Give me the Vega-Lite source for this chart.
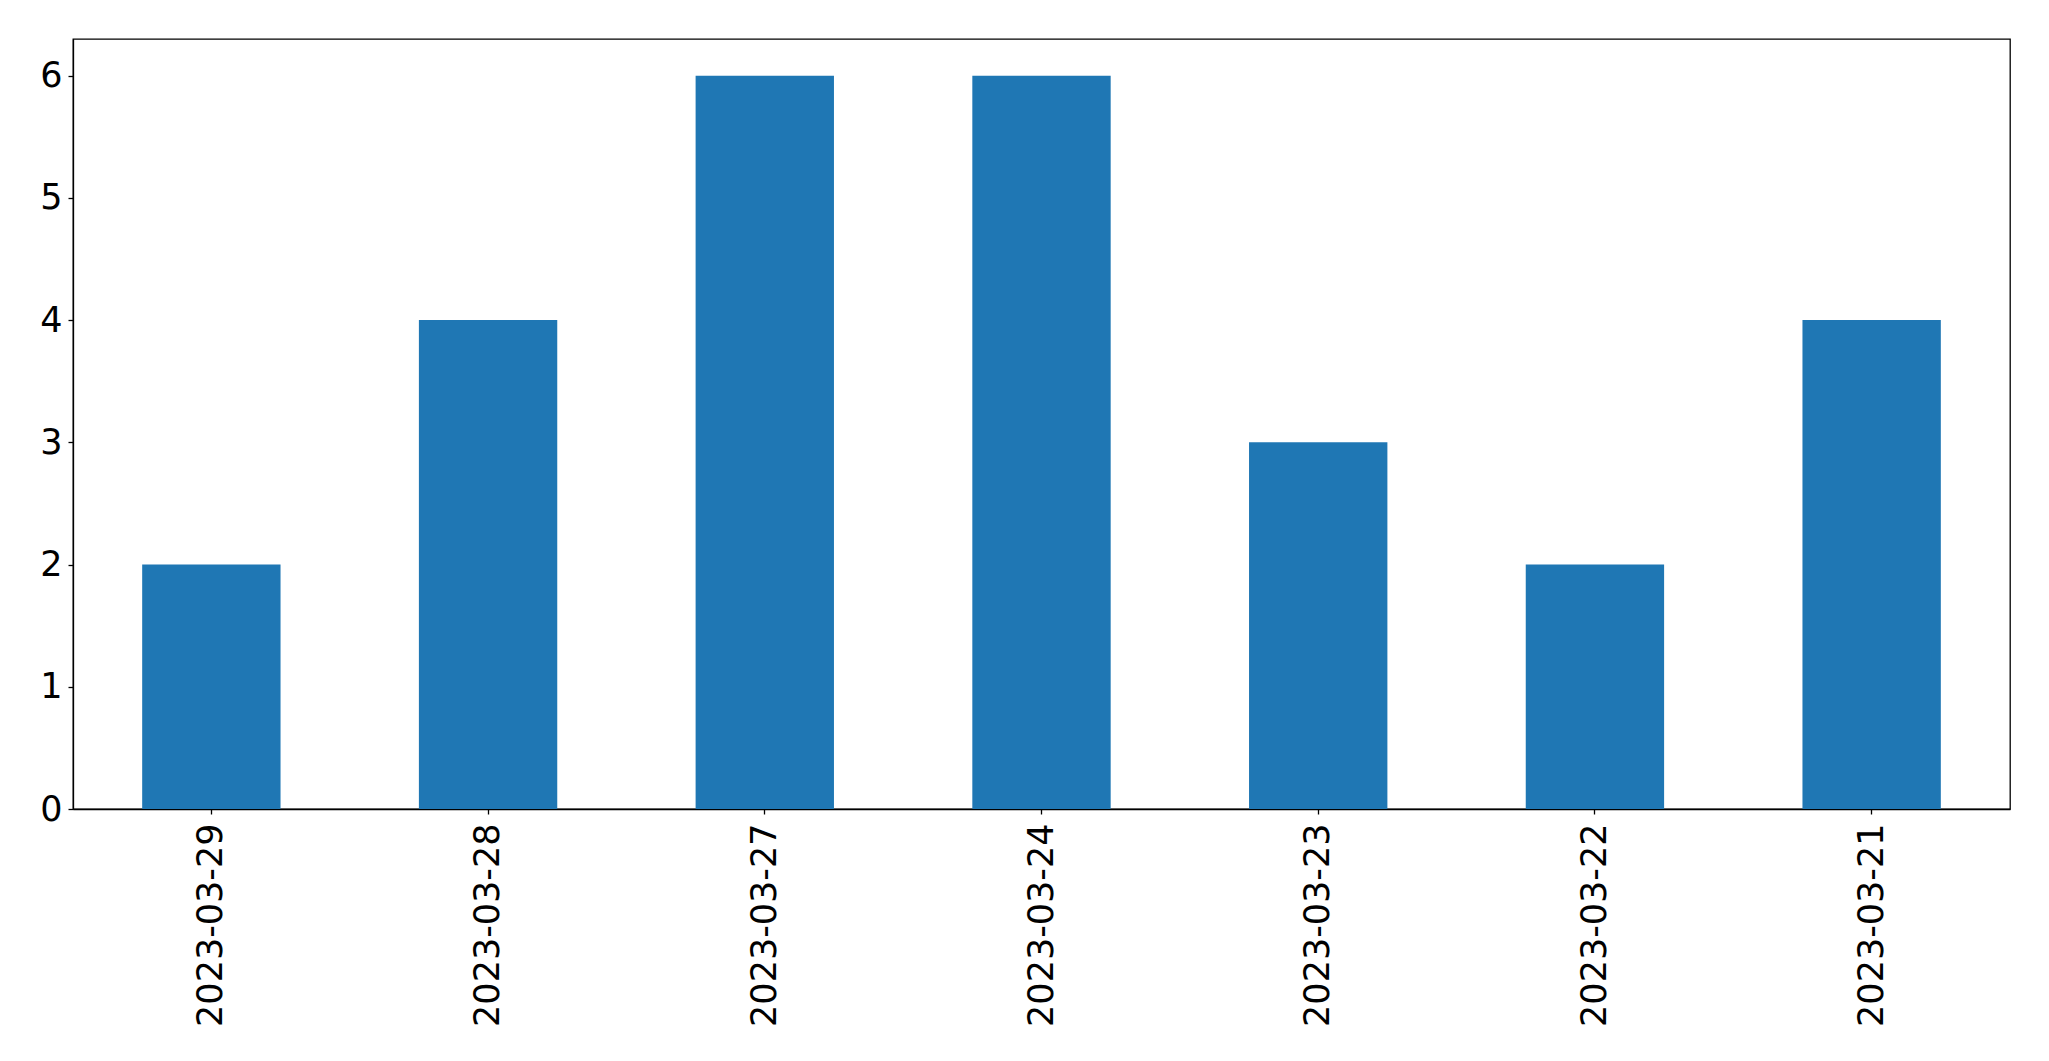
{
  "$schema": "https://vega.github.io/schema/vega-lite/v6.json",
  "autosize": "none",
  "width": 1937,
  "height": 770,
  "padding": {"left": 73, "top": 39, "right": 39, "bottom": 252},
  "background": "white",
  "data": {
    "values": [
      {"date": "2023-03-29", "count": 2},
      {"date": "2023-03-28", "count": 4},
      {"date": "2023-03-27", "count": 6},
      {"date": "2023-03-24", "count": 6},
      {"date": "2023-03-23", "count": 3},
      {"date": "2023-03-22", "count": 2},
      {"date": "2023-03-21", "count": 4}
    ]
  },
  "config": {
    "view": {"stroke": "black", "strokeWidth": 1.3},
    "font": "DejaVu Sans"
  },
  "mark": {"type": "bar", "color": "#1f77b4"},
  "encoding": {
    "x": {
      "field": "date",
      "type": "nominal",
      "sort": null,
      "title": null,
      "scale": {"paddingInner": 0.5, "paddingOuter": 0.25},
      "axis": {
        "labelAngle": 270, "labelAlign": "right", "labelBaseline": "middle", "labelPadding": 9,
        "labelFont": "DejaVu Sans", "labelFontSize": 35, "labelColor": "black", "labelLimit": 0,
        "domainColor": "black", "domainWidth": 1.3, "tickColor": "black", "tickWidth": 1.3, "tickSize": 5,
        "grid": false
      }
    },
    "y": {
      "field": "count",
      "type": "quantitative",
      "title": null,
      "scale": {"domain": [0, 6.3], "nice": false, "zero": true},
      "axis": {
        "values": [0, 1, 2, 3, 4, 5, 6], "labelPadding": 6, "labelBaseline": "middle",
        "labelFont": "DejaVu Sans", "labelFontSize": 35, "labelColor": "black", "labelLimit": 0,
        "domainColor": "black", "domainWidth": 1.3, "tickColor": "black", "tickWidth": 1.3, "tickSize": 5,
        "grid": false
      }
    }
  }
}
